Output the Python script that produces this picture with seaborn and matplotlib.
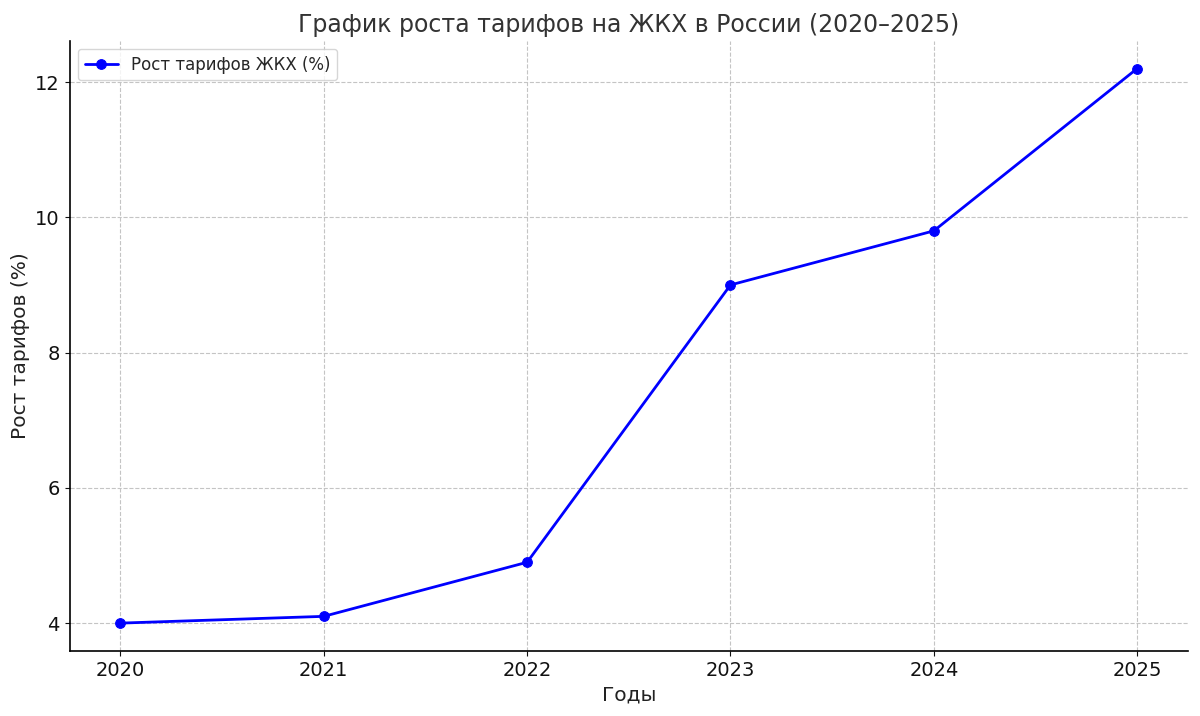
import matplotlib
matplotlib.use("Agg")
import matplotlib.pyplot as plt
import seaborn as sns
import pandas as pd

years = [2020, 2021, 2022, 2023, 2024, 2025]
growth = [4.0, 4.1, 4.9, 9.0, 9.8, 12.2]
series_label = "Рост тарифов ЖКХ (%)"

df = pd.DataFrame({"year": years, "growth": growth})

sns.set_style("ticks")
plt.rcParams['font.family'] = ['DejaVu Sans']

fig, ax = plt.subplots(figsize=(12, 7.16), dpi=100)
sns.lineplot(data=df, x="year", y="growth", marker="o", color="blue",
             linewidth=2, markersize=7, markeredgecolor="blue",
             label=series_label, ax=ax)

ax.set_title("График роста тарифов на ЖКХ в России (2020–2025)", fontsize=17, color="#333333")
ax.set_xlabel("Годы", fontsize=14.5, color="#222222")
ax.set_ylabel("Рост тарифов (%)", fontsize=14.5, color="#222222")
ax.set_xticks(years)
ax.set_yticks([4, 6, 8, 10, 12])
ax.tick_params(labelsize=14, colors="#111111")
ax.grid(True, linestyle="--", color="#c4c4c4", linewidth=0.8)
ax.spines["top"].set_visible(False)
ax.spines["right"].set_visible(False)
for s in ("left", "bottom"):
    ax.spines[s].set_color("black")
    ax.spines[s].set_linewidth(1.2)
ax.legend(loc="upper left", fontsize=12)

fig.subplots_adjust(left=0.058, right=0.99, top=0.943, bottom=0.091)
fig.savefig("out.png", dpi=100)
